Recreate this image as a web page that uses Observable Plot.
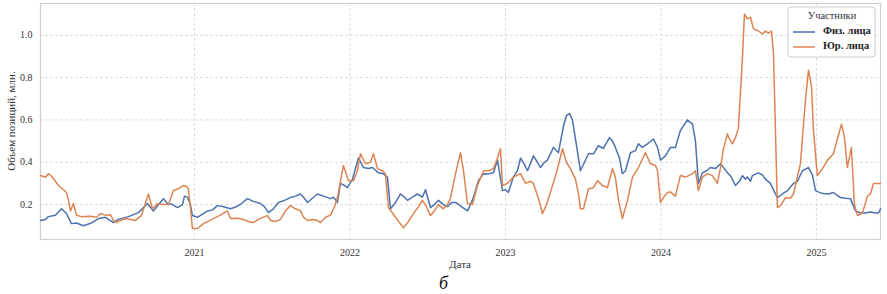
<!DOCTYPE html>
<html>
<head>
<meta charset="utf-8">
<script src="https://cdn.jsdelivr.net/npm/d3@7"></script>
<script src="https://cdn.jsdelivr.net/npm/@observablehq/plot@0.6"></script>
<style>
  html, body { margin: 0; padding: 0; background: #fff; }
  #wrap { width: 887px; height: 272px; }
  #wrap svg { display: block; }
  #wrap svg text { font-family: "Liberation Serif", "Times New Roman", serif !important; }
  #caption { width: 887px; height: 20px; text-align: center; font-family: "Liberation Serif", serif; font-style: italic; font-size: 18px; line-height: 18px; padding-top: 2px; color: #111; overflow: visible; }
</style>
</head>
<body>
<div id="wrap"></div>
<div id="caption">б</div>
<script>
// Физ. лица (decimal year, value in mln)
const fizYear = [2020.010,2020.042,2020.061,2020.106,2020.145,2020.177,2020.209,2020.241,2020.286,2020.338,2020.383,2020.428,2020.479,2020.511,2020.576,2020.640,2020.698,2020.736,2020.769,2020.801,2020.826,2020.859,2020.891,2020.923,2020.936,2020.955,2020.974,2020.987,2021.019,2021.052,2021.084,2021.116,2021.148,2021.187,2021.232,2021.270,2021.302,2021.341,2021.379,2021.424,2021.450,2021.476,2021.508,2021.540,2021.579,2021.617,2021.650,2021.682,2021.707,2021.727,2021.759,2021.791,2021.830,2021.875,2021.894,2021.920,2021.939,2021.965,2021.984,2022.016,2022.055,2022.087,2022.119,2022.145,2022.183,2022.215,2022.241,2022.261,2022.293,2022.325,2022.351,2022.370,2022.402,2022.434,2022.466,2022.486,2022.518,2022.543,2022.569,2022.601,2022.627,2022.653,2022.679,2022.717,2022.756,2022.775,2022.794,2022.826,2022.859,2022.891,2022.923,2022.949,2022.981,2023.000,2023.019,2023.051,2023.077,2023.097,2023.122,2023.142,2023.180,2023.206,2023.225,2023.251,2023.270,2023.309,2023.341,2023.373,2023.392,2023.412,2023.431,2023.457,2023.482,2023.508,2023.534,2023.566,2023.598,2023.630,2023.669,2023.688,2023.707,2023.733,2023.752,2023.772,2023.804,2023.836,2023.855,2023.881,2023.913,2023.952,2023.978,2023.997,2024.029,2024.061,2024.093,2024.125,2024.170,2024.203,2024.222,2024.241,2024.267,2024.293,2024.318,2024.351,2024.383,2024.408,2024.428,2024.453,2024.479,2024.505,2024.524,2024.543,2024.556,2024.576,2024.588,2024.627,2024.653,2024.672,2024.704,2024.730,2024.749,2024.781,2024.814,2024.852,2024.878,2024.910,2024.936,2024.949,2024.974,2024.994,2025.026,2025.045,2025.077,2025.109,2025.154,2025.187,2025.219,2025.251,2025.283,2025.315,2025.347,2025.379,2025.399,2025.412];
const fizValue = [0.125,0.13,0.143,0.15,0.18,0.158,0.11,0.113,0.1,0.113,0.134,0.14,0.115,0.13,0.143,0.162,0.205,0.17,0.2,0.228,0.205,0.2,0.186,0.2,0.24,0.235,0.2,0.148,0.14,0.155,0.17,0.175,0.195,0.19,0.18,0.19,0.205,0.228,0.215,0.205,0.19,0.162,0.18,0.21,0.22,0.233,0.24,0.25,0.23,0.21,0.23,0.25,0.24,0.228,0.235,0.21,0.3,0.29,0.28,0.32,0.42,0.375,0.37,0.375,0.35,0.346,0.33,0.18,0.21,0.25,0.235,0.22,0.235,0.25,0.235,0.27,0.186,0.2,0.22,0.2,0.19,0.21,0.21,0.19,0.17,0.2,0.233,0.313,0.346,0.345,0.35,0.41,0.266,0.27,0.257,0.33,0.36,0.42,0.39,0.36,0.43,0.4,0.375,0.4,0.41,0.47,0.445,0.57,0.62,0.63,0.6,0.48,0.36,0.4,0.44,0.44,0.478,0.465,0.516,0.5,0.47,0.42,0.346,0.36,0.445,0.455,0.487,0.47,0.487,0.51,0.47,0.41,0.43,0.47,0.47,0.55,0.6,0.58,0.5,0.3,0.35,0.36,0.375,0.37,0.393,0.37,0.35,0.33,0.29,0.31,0.337,0.32,0.33,0.31,0.337,0.35,0.34,0.32,0.3,0.26,0.233,0.25,0.266,0.3,0.31,0.36,0.37,0.375,0.34,0.266,0.255,0.252,0.25,0.257,0.233,0.23,0.228,0.17,0.16,0.16,0.165,0.16,0.16,0.18];

// Юр. лица
const yurYear = [2020.010,2020.042,2020.061,2020.080,2020.106,2020.125,2020.158,2020.177,2020.190,2020.203,2020.222,2020.241,2020.273,2020.331,2020.370,2020.396,2020.428,2020.460,2020.479,2020.498,2020.524,2020.556,2020.588,2020.621,2020.659,2020.704,2020.730,2020.762,2020.794,2020.833,2020.865,2020.897,2020.929,2020.949,2020.961,2020.974,2020.987,2021.019,2021.058,2021.122,2021.167,2021.212,2021.232,2021.277,2021.315,2021.347,2021.379,2021.424,2021.470,2021.489,2021.521,2021.553,2021.585,2021.617,2021.650,2021.682,2021.701,2021.727,2021.759,2021.791,2021.810,2021.843,2021.875,2021.900,2021.920,2021.958,2021.990,2022.023,2022.048,2022.068,2022.100,2022.132,2022.151,2022.177,2022.209,2022.228,2022.248,2022.293,2022.344,2022.376,2022.408,2022.441,2022.466,2022.492,2022.518,2022.543,2022.569,2022.601,2022.627,2022.646,2022.679,2022.711,2022.730,2022.756,2022.788,2022.820,2022.859,2022.891,2022.923,2022.949,2022.968,2022.981,2023.013,2023.051,2023.097,2023.129,2023.161,2023.180,2023.212,2023.238,2023.264,2023.289,2023.328,2023.367,2023.392,2023.418,2023.450,2023.470,2023.482,2023.502,2023.534,2023.566,2023.592,2023.624,2023.656,2023.688,2023.707,2023.727,2023.752,2023.785,2023.817,2023.855,2023.900,2023.933,2023.965,2023.978,2023.997,2024.023,2024.042,2024.061,2024.093,2024.125,2024.158,2024.203,2024.222,2024.241,2024.267,2024.299,2024.331,2024.363,2024.383,2024.402,2024.428,2024.434,2024.460,2024.479,2024.498,2024.524,2024.537,2024.556,2024.576,2024.595,2024.627,2024.653,2024.672,2024.691,2024.711,2024.724,2024.749,2024.769,2024.801,2024.833,2024.852,2024.897,2024.929,2024.949,2024.968,2024.981,2025.006,2025.039,2025.071,2025.109,2025.142,2025.161,2025.180,2025.199,2025.225,2025.244,2025.264,2025.296,2025.328,2025.347,2025.367,2025.412];
const yurValue = [0.337,0.329,0.346,0.335,0.31,0.29,0.27,0.257,0.22,0.17,0.205,0.15,0.143,0.145,0.14,0.158,0.15,0.152,0.125,0.115,0.125,0.134,0.13,0.125,0.148,0.25,0.18,0.205,0.2,0.2,0.266,0.275,0.29,0.285,0.275,0.186,0.087,0.087,0.11,0.134,0.15,0.17,0.134,0.135,0.13,0.12,0.115,0.135,0.148,0.125,0.12,0.13,0.17,0.195,0.18,0.17,0.14,0.125,0.13,0.125,0.115,0.14,0.15,0.19,0.233,0.385,0.313,0.313,0.36,0.44,0.393,0.4,0.44,0.37,0.36,0.346,0.186,0.14,0.09,0.12,0.157,0.19,0.22,0.19,0.148,0.17,0.2,0.18,0.2,0.228,0.346,0.445,0.36,0.205,0.2,0.29,0.36,0.36,0.37,0.42,0.464,0.29,0.3,0.33,0.346,0.3,0.31,0.3,0.23,0.157,0.2,0.257,0.35,0.464,0.4,0.37,0.32,0.25,0.18,0.18,0.275,0.28,0.313,0.29,0.28,0.37,0.33,0.22,0.134,0.22,0.33,0.375,0.445,0.393,0.385,0.36,0.21,0.24,0.257,0.26,0.24,0.337,0.33,0.346,0.36,0.266,0.33,0.346,0.337,0.3,0.375,0.464,0.535,0.52,0.487,0.516,0.56,0.89,1.1,1.077,1.085,1.03,1.02,1.006,1.02,1.01,1.02,0.91,0.186,0.195,0.233,0.23,0.25,0.393,0.69,0.835,0.76,0.55,0.337,0.37,0.41,0.44,0.53,0.58,0.52,0.375,0.47,0.2,0.148,0.16,0.24,0.25,0.3,0.3];

const yearTicks = [2021, 2022, 2023, 2024, 2025];
const valueTicks = [0.2, 0.4, 0.6, 0.8, 1.0];
const seriesNames = ["Физ. лица", "Юр. лица"];
const seriesColors = ["#4c72b0", "#dd8452"];

const fiz = fizYear.map((t, i) => ({year: t, value: fizValue[i]}));
const yur = yurYear.map((t, i) => ({year: t, value: yurValue[i]}));

const W = 887, H = 272, mL = 40, mR = 7, mT = 3, mB = 33;
const font = "'Liberation Serif', 'Times New Roman', serif";

const chart = Plot.plot({
  width: W, height: H,
  marginLeft: mL, marginRight: mR, marginTop: mT, marginBottom: mB,
  style: {fontFamily: font, fontSize: "10px", color: "#333", background: "#fff", overflow: "visible"},
  x: {domain: [2020.010, 2025.412], ticks: yearTicks, tickFormat: d => String(d), tickSize: 0, tickPadding: 9, label: null},
  y: {domain: [0.035, 1.15], ticks: valueTicks, tickFormat: d => d.toFixed(1), tickSize: 0, tickPadding: 8, label: null},
  marks: [
    Plot.gridX(yearTicks, {stroke: "#dcdcdc", strokeOpacity: 1, strokeDasharray: "3,2"}),
    Plot.gridY(valueTicks, {stroke: "#dcdcdc", strokeOpacity: 1, strokeDasharray: "3,2"}),
    Plot.frame({stroke: "#cfcfcf", strokeWidth: 1.2}),
    Plot.line(fiz, {x: "year", y: "value", stroke: seriesColors[0], strokeWidth: 1.5}),
    Plot.line(yur, {x: "year", y: "value", stroke: seriesColors[1], strokeWidth: 1.5}),
    Plot.axisX(yearTicks, {tickSize: 0, tickPadding: 9, tickFormat: d => String(d), label: null}),
    Plot.axisY(valueTicks, {tickSize: 0, tickPadding: 8, tickFormat: d => d.toFixed(1), label: null})
  ]
});

document.getElementById("wrap").appendChild(chart);

const svg = d3.select(chart);
// axis titles
svg.append("text")
  .attr("x", (mL + W - mR) / 2).attr("y", 265)
  .attr("text-anchor", "middle").attr("dominant-baseline", "middle")
  .style("font-size", "11px").attr("fill", "#333")
  .text("Дата");
svg.append("text")
  .attr("transform", `translate(12,${(mT + H - mB) / 2}) rotate(-90)`)
  .attr("text-anchor", "middle").attr("dominant-baseline", "middle")
  .style("font-size", "11px").attr("fill", "#333")
  .text("Объем позиций, млн.");

// legend
const lg = svg.append("g");
lg.append("rect").attr("x", 788).attr("y", 7).attr("width", 87).attr("height", 50)
  .attr("rx", 3).attr("fill", "#fff").attr("fill-opacity", 0.9).attr("stroke", "#cccccc");
lg.append("text").attr("x", 832).attr("y", 16.5)
  .attr("text-anchor", "middle").attr("dominant-baseline", "middle")
  .style("font-size", "10.5px").attr("fill", "#333")
  .text("Участники");
seriesNames.forEach((name, i) => {
  const yy = 32 + i * 15;
  lg.append("line").attr("x1", 793).attr("x2", 815).attr("y1", yy).attr("y2", yy)
    .attr("stroke", seriesColors[i]).attr("stroke-width", 1.5);
  lg.append("text").attr("x", 823).attr("y", yy)
    .attr("text-anchor", "start").attr("dominant-baseline", "middle")
    .style("font-size", "10.5px").style("font-weight", "bold").attr("fill", "#222")
    .text(name);
});
</script>
</body>
</html>
